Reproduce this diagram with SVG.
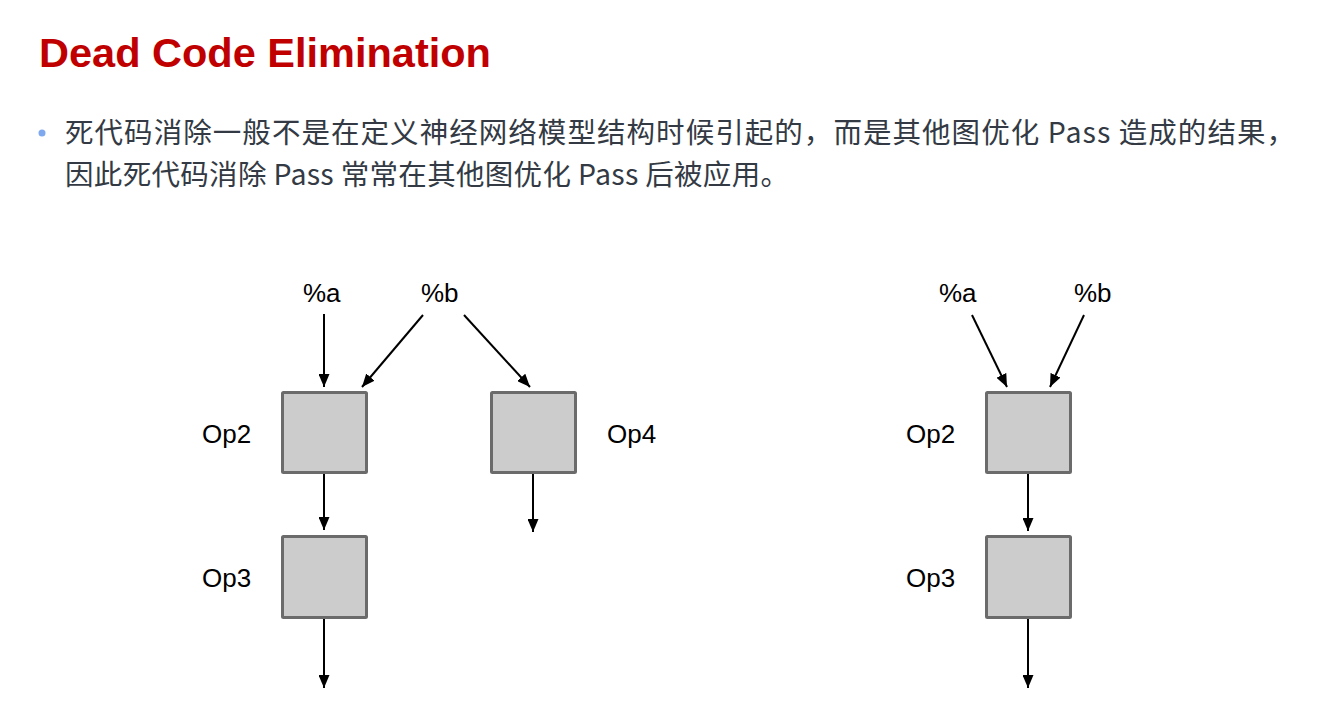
<svg xmlns="http://www.w3.org/2000/svg" width="1341" height="720" viewBox="0 0 1341 720">
<style>
.title{font-family:"Liberation Sans",Arial,sans-serif;font-weight:bold;font-size:41.5px;fill:#c00000}
.body{font-family:"Noto Sans CJK SC","Noto Sans",sans-serif;font-size:28.5px;fill:#333a44}
.lbl{font-family:"Liberation Sans",Arial,sans-serif;font-size:26px;fill:#000}
.box{fill:#cccccc;stroke:#6b6b6b;stroke-width:3}
.edge{stroke:#000;stroke-width:2;fill:none;marker-end:url(#ah)}
</style>
<defs>
<marker id="ah" markerUnits="userSpaceOnUse" markerWidth="13" markerHeight="11" refX="13" refY="5.5" orient="auto">
<path d="M0,0 L13,5.5 L0,11 z" fill="#000"/>
</marker>
</defs>
<rect width="1341" height="720" fill="#fff"/>
<text class="title" x="39" y="67">Dead Code Elimination</text>
<circle cx="42" cy="133" r="3.5" fill="#7ea9ee"/>
<text class="body" x="65" y="143" textLength="1230" lengthAdjust="spacing">死代码消除一般不是在定义神经网络模型结构时候引起的，而是其他图优化 Pass 造成的结果，</text>
<text class="body" x="65" y="185" textLength="724" lengthAdjust="spacing">因此死代码消除 Pass 常常在其他图优化 Pass 后被应用。</text>

<g id="connectors">
<line class="edge" x1="324" y1="314" x2="324" y2="387"/>
<line class="edge" x1="423" y1="315" x2="362" y2="387"/>
<line class="edge" x1="464" y1="315" x2="530" y2="387"/>
<line class="edge" x1="324" y1="474" x2="324" y2="530"/>
<line class="edge" x1="533" y1="474" x2="533" y2="532"/>
<line class="edge" x1="324" y1="619" x2="324" y2="688"/>
<line class="edge" x1="972" y1="315" x2="1007" y2="387"/>
<line class="edge" x1="1084" y1="315" x2="1050" y2="387"/>
<line class="edge" x1="1028" y1="474" x2="1028" y2="531"/>
<line class="edge" x1="1028" y1="619" x2="1028" y2="688"/>
</g>

<g id="a-left"><text class="lbl" x="303" y="302">%a</text></g>
<g id="b-left"><text class="lbl" x="421" y="302">%b</text></g>
<g id="op2-left"><rect class="box" x="282.5" y="392.5" width="84" height="80" rx="1"/><text class="lbl" x="202" y="443">Op2</text></g>
<g id="op4-left"><rect class="box" x="491.5" y="392.5" width="84" height="80" rx="1"/><text class="lbl" x="607" y="443">Op4</text></g>
<g id="op3-left"><rect class="box" x="282.5" y="536.5" width="84" height="81" rx="1"/><text class="lbl" x="202" y="587">Op3</text></g>

<g id="a-right"><text class="lbl" x="939" y="302">%a</text></g>
<g id="b-right"><text class="lbl" x="1074" y="302">%b</text></g>
<g id="op2-right"><rect class="box" x="986.5" y="392.5" width="84" height="80" rx="1"/><text class="lbl" x="906" y="443">Op2</text></g>
<g id="op3-right"><rect class="box" x="986.5" y="536.5" width="84" height="81" rx="1"/><text class="lbl" x="906" y="587">Op3</text></g>
</svg>
